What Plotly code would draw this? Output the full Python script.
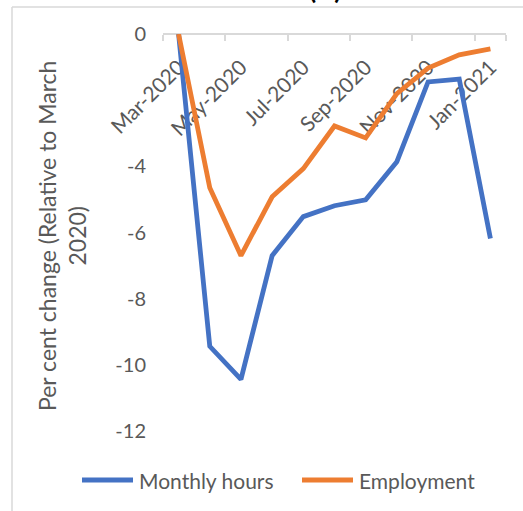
import plotly.graph_objects as go

# Months since March 2020
months = ["Mar-2020", "Apr-2020", "May-2020", "Jun-2020", "Jul-2020", "Aug-2020",
          "Sep-2020", "Oct-2020", "Nov-2020", "Dec-2020", "Jan-2021"]

# Per cent change relative to March 2020
monthly_hours = [0, -9.44, -10.44, -6.70, -5.52, -5.19, -5.01, -3.86, -1.45, -1.36, -6.18]
employment = [0, -4.65, -6.70, -4.92, -4.07, -2.78, -3.14, -1.80, -1.03, -0.63, -0.45]

y_ticks = [0, -4, -6, -8, -10, -12]
y_tick_text = ["0", "-4", "-6", "-8", "-10", "-12"]

series_names = ["Monthly hours", "Employment"]
series_colors = ["#4472C4", "#ED7D31"]

FONT = "Lato"
GREY_TEXT = "#595959"
GREY_LINE = "#d9d9d9"

W, H = 523, 511
L, R, T, B = 163, 17, 34, 80
PW, PH = W - L - R, H - T - B


def px_x(p):
    return (p - L) / PW


def px_y(p):
    return (H - B - p) / PH


fig = go.Figure()
for name, vals, color in zip(series_names, [monthly_hours, employment], series_colors):
    fig.add_trace(go.Scatter(
        x=months, y=vals, name=name, mode="lines",
        line=dict(color=color, width=4.8),
        showlegend=False,
    ))

shapes = [
    # chart frame
    dict(type="line", xref="paper", yref="paper", x0=px_x(12), x1=px_x(530),
         y0=px_y(7), y1=px_y(7), line=dict(color=GREY_LINE, width=1.5)),
    dict(type="line", xref="paper", yref="paper", x0=px_x(12), x1=px_x(12),
         y0=px_y(7), y1=px_y(520), line=dict(color=GREY_LINE, width=1.5)),
]

annotations = [
    dict(text="<b>(A)</b>", xref="paper", yref="paper", x=px_x(325), y=px_y(7),
         xanchor="center", yanchor="bottom", showarrow=False,
         font=dict(family=FONT, size=26, color="black")),
    dict(text="Per cent change (Relative to March<br>2020)", xref="paper", yref="paper",
         x=px_x(62), y=px_y(236), xanchor="center", yanchor="middle",
         textangle=-90, showarrow=False,
         font=dict(family=FONT, size=23, color=GREY_TEXT)),
]

# legend
legend_pos = [(82, 133, 137), (302, 353, 357)]
for (x0, x1, xt), name, color in zip(legend_pos, series_names, series_colors):
    shapes.append(dict(type="line", xref="paper", yref="paper",
                       x0=px_x(x0), x1=px_x(x1), y0=px_y(480), y1=px_y(480),
                       line=dict(color=color, width=5)))
    annotations.append(dict(text=name, xref="paper", yref="paper",
                            x=px_x(xt), y=px_y(480), xanchor="left", yanchor="middle",
                            showarrow=False,
                            font=dict(family=FONT, size=21, color=GREY_TEXT)))

fig.update_layout(
    width=W, height=H,
    margin=dict(l=L, r=R, t=T, b=B, autoexpand=False),
    paper_bgcolor="white", plot_bgcolor="white",
    font=dict(family=FONT, color=GREY_TEXT),
    shapes=shapes, annotations=annotations,
    xaxis=dict(
        type="category", range=[-0.5, len(months) - 0.5],
        anchor="free", position=1, side="bottom",
        tickmode="array", tickvals=months[::2], ticktext=months[::2],
        tickson="boundaries", ticks="outside", ticklen=6, tickcolor=GREY_LINE,
        tickwidth=1.5, ticklabelstandoff=12,
        tickangle=-45, tickfont=dict(family=FONT, size=21, color=GREY_TEXT),
        showline=True, linecolor=GREY_LINE, linewidth=1.5,
        showgrid=False, zeroline=False, layer="below traces",
    ),
    yaxis=dict(
        range=[-12, 0], tickmode="array", tickvals=y_ticks, ticktext=y_tick_text,
        ticks="", showline=False, showgrid=False, zeroline=False,
        ticklabelstandoff=16,
        tickfont=dict(family=FONT, size=20, color=GREY_TEXT),
    ),
)

fig.write_html("out.html")
